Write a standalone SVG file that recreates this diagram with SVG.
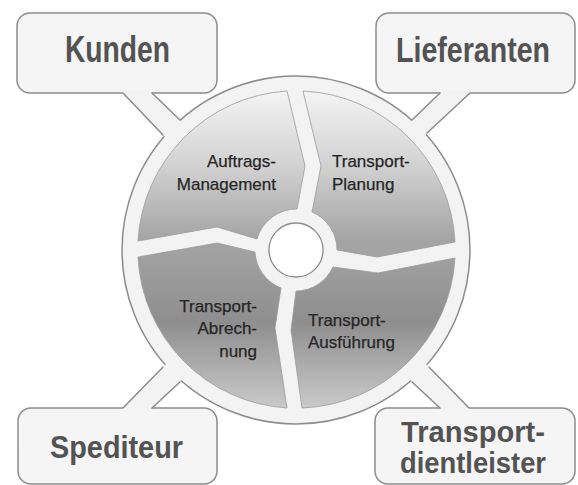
<svg xmlns="http://www.w3.org/2000/svg" width="578" height="485" viewBox="0 0 578 485">
<defs>
<style>
.box{fill:#f5f5f5;stroke:#8c8c8c;stroke-width:1.5}
.ring{fill:#f3f3f3;stroke:#8c8c8c;stroke-width:1.5}
.tailfill{fill:#f3f3f3;stroke:none}
.tailline{stroke:#8c8c8c;stroke-width:1.5;fill:none;stroke-linecap:round}
.seg{stroke:#9a9a9a;stroke-width:0.8;stroke-linejoin:round}
.big{font-family:"Liberation Sans",Arial,sans-serif;font-weight:bold;fill:#535353}
.lbl{font-family:"Liberation Sans",Arial,sans-serif;font-size:17px;fill:#262626;stroke:#262626;stroke-width:0.25}
</style>
<linearGradient id="gTop" gradientUnits="userSpaceOnUse" x1="0" y1="90" x2="0" y2="240">
<stop offset="0" stop-color="#f4f4f4"/>
<stop offset="0.5" stop-color="#d2d2d2"/>
<stop offset="1" stop-color="#a4a4a4"/>
</linearGradient>
<linearGradient id="gBot" gradientUnits="userSpaceOnUse" x1="0" y1="250" x2="0" y2="410">
<stop offset="0" stop-color="#a2a2a2"/>
<stop offset="0.45" stop-color="#8e8e8e"/>
<stop offset="1" stop-color="#cbcbcb"/>
</linearGradient>
</defs>
<rect width="578" height="485" fill="#ffffff"/>

<circle id="ring" class="ring" cx="296" cy="250" r="174"/>

<g id="node-kunden">
<rect class="box" x="17" y="13" width="200" height="80" rx="13"/>
<text class="big" x="65" y="62" font-size="37" textLength="105" lengthAdjust="spacingAndGlyphs">Kunden</text>
</g>
<g id="node-lieferanten">
<rect class="box" x="376" y="13" width="199" height="80" rx="13"/>
<text class="big" transform="translate(396 62) scale(0.794 1)" x="0" y="0" font-size="36">Lieferanten</text>
</g>
<g id="node-spediteur">
<rect class="box" x="18" y="408" width="199" height="76" rx="13"/>
<text class="big" x="50" y="458" font-size="32" textLength="133" lengthAdjust="spacingAndGlyphs">Spediteur</text>
</g>
<g id="node-transportdienstleister">
<rect class="box" x="375" y="408" width="200" height="76" rx="13"/>
<text class="big" x="401" y="442" font-size="29" textLength="144" lengthAdjust="spacingAndGlyphs">Transport-</text>
<text class="big" x="400" y="473" font-size="29" textLength="146" lengthAdjust="spacingAndGlyphs">dientleister</text>
</g>

<g id="connectors">
<polygon class="tailfill" points="120,90 149,90 186,126 168,140"/>
<line class="tailline" x1="123" y1="93" x2="163" y2="135"/>
<line class="tailline" x1="152" y1="93" x2="180" y2="120"/>
<polygon class="tailfill" points="443,90 473,90 422,138 407,125"/>
<line class="tailline" x1="440" y1="93" x2="412" y2="120"/>
<line class="tailline" x1="470" y1="93" x2="427" y2="133"/>
<polygon class="tailfill" points="120,411 149,411 186,376 168,362"/>
<line class="tailline" x1="123" y1="408" x2="163" y2="367"/>
<line class="tailline" x1="152" y1="408" x2="180" y2="382"/>
<polygon class="tailfill" points="443,411 472,411 424,362 406,376"/>
<line class="tailline" x1="440" y1="408" x2="412" y2="382"/>
<line class="tailline" x1="469" y1="408" x2="429" y2="367"/>
</g>

<g id="node-auftrags">
<path class="seg" fill="url(#gTop)" d="M138,241 L217,227 L257,239 A41,41 0 0 1 297,209 L305,166 L287,91 A159,159 0 0 0 138,241 Z"/>
<text class="lbl" text-anchor="end" x="276" y="167">Auftrags-</text>
<text class="lbl" text-anchor="end" x="276" y="190">Management</text>
</g>
<g id="node-planung">
<path class="seg" fill="url(#gTop)" d="M303,91 L321,166 L312,212 A41,41 0 0 1 337,250 L377,257 L455,242 A159,159 0 0 0 303,91 Z"/>
<text class="lbl" x="332" y="167">Transport-</text>
<text class="lbl" x="332" y="190">Planung</text>
</g>
<g id="node-ausfuehrung">
<path class="seg" fill="url(#gBot)" d="M455,258 L378,273 L333,267 A41,41 0 0 1 296,291 L291,330 L302,408 A159,159 0 0 0 455,258 Z"/>
<text class="lbl" x="308" y="326">Transport-</text>
<text class="lbl" x="308" y="348">Ausführung</text>
</g>
<g id="node-abrechnung">
<path class="seg" fill="url(#gBot)" d="M287,408 L275,328 L281,288 A41,41 0 0 1 255,252 L217,243 L138,257 A159,159 0 0 0 287,408 Z"/>
<text class="lbl" text-anchor="end" x="257" y="312">Transport-</text>
<text class="lbl" text-anchor="end" x="257" y="334">Abrech-</text>
<text class="lbl" text-anchor="end" x="257" y="357">nung</text>
</g>

<g id="node-hub">
<circle cx="296" cy="250" r="27" fill="#ffffff" stroke="#8c8c8c" stroke-width="1.3"/>
</g>
</svg>
